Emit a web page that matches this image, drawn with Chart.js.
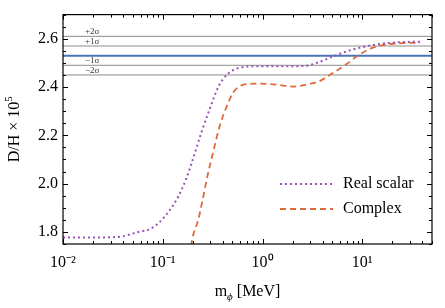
<!DOCTYPE html>
<html>
<head>
<meta charset="utf-8">
<script src="https://cdn.jsdelivr.net/npm/chart.js@4.4.1/dist/chart.umd.min.js"></script>
<style>
html, body { margin: 0; padding: 0; background: #fff; }
</style>
</head>
<body>
<canvas id="myChart" width="445" height="308"></canvas>
<script>
// dados
var massReal = [0.01, 0.02, 0.03, 0.04, 0.057, 0.075, 0.094, 0.118, 0.143, 0.172, 0.2, 0.245, 0.297, 0.36, 0.45, 0.59, 0.87, 1.5, 2.6, 3.5, 5.1, 7.5, 11, 16, 25, 40];
var dhReal = [1.777, 1.777, 1.778, 1.782, 1.80, 1.812, 1.843, 1.891, 1.946, 2.021, 2.10, 2.214, 2.311, 2.40, 2.455, 2.48, 2.486, 2.486, 2.487, 2.50, 2.527, 2.552, 2.569, 2.58, 2.586, 2.588];

var massComplex = [0.185, 0.2, 0.227, 0.25, 0.28, 0.32, 0.37, 0.436, 0.51, 0.6, 0.75, 0.94, 1.4, 2.0, 3.0, 3.7, 4.8, 6.9, 9.4, 12.8, 17.4, 25.5, 38];
var dhComplex = [1.70, 1.78, 1.85, 1.93, 2.03, 2.13, 2.235, 2.318, 2.378, 2.405, 2.413, 2.414, 2.41, 2.402, 2.414, 2.424, 2.452, 2.494, 2.535, 2.563, 2.576, 2.582, 2.583];

var legendNames = ['Real scalar', 'Complex'];
var sigmaNames = ['+2σ', '+1σ', '', '−1σ', '−2σ'];
var sigmaValues = [2.61, 2.57, 2.53, 2.49, 2.45];

var xTicks = [0.01, 0.1, 1, 10];
var xTickLabels = ['10⁻²', '10⁻¹', '10⁰', '10¹'];
var yTicks = [1.8, 2.0, 2.2, 2.4, 2.6];

var xMin = 0.01, xMax = 50, yMin = 1.75, yMax = 2.70;

var corReal = '#9b51b8';
var corComplex = '#e0683a';
var corCentral = '#4a74b5';
var corSigma = '#8c8c8c';
var fonte = "'Liberation Serif', 'Times New Roman', serif";

function pares(xs, ys) {
    var arr = [];
    for (var i = 0; i < xs.length; i++) arr.push({ x: xs[i], y: ys[i] });
    return arr;
}

function linha(ctx, x1, y1, x2, y2) {
    ctx.beginPath();
    ctx.moveTo(x1, y1);
    ctx.lineTo(x2, y2);
    ctx.stroke();
}

// moldura com ticks para dentro, legenda, rotulos sigma e titulos
var molduraPlugin = {
    id: 'moldura',
    afterDatasetsDraw: function(chart) {
        var ctx = chart.ctx, a = chart.chartArea;
        var sx = chart.scales.x, sy = chart.scales.y;
        ctx.save();

        // rotulos sigma
        ctx.fillStyle = '#333';
        ctx.font = '9px ' + fonte;
        ctx.textAlign = 'left';
        ctx.textBaseline = 'alphabetic';
        for (var s = 0; s < sigmaValues.length; s++) {
            if (!sigmaNames[s]) continue;
            ctx.fillText(sigmaNames[s], a.left + 22, sy.getPixelForValue(sigmaValues[s]) - 2);
        }

        // moldura
        ctx.strokeStyle = '#000';
        ctx.lineWidth = 1.2;
        ctx.strokeRect(a.left, a.top, a.right - a.left, a.bottom - a.top);

        ctx.lineWidth = 1;
        for (var e = -2; e <= 1; e++) {
            for (var m = 1; m <= 9; m++) {
                var v = m * Math.pow(10, e);
                if (v < xMin || v > xMax) continue;
                var px = Math.round(sx.getPixelForValue(v)) + 0.5;
                var len = m == 1 ? 5 : 3;
                linha(ctx, px, a.bottom, px, a.bottom - len);
                linha(ctx, px, a.top, px, a.top + len);
            }
        }
        for (var k = 0; k <= 19; k++) {
            var yv = yMin + 0.05 * k;
            var major = false;
            for (var t = 0; t < yTicks.length; t++) if (Math.abs(yTicks[t] - yv) < 0.001) major = true;
            var py = Math.round(sy.getPixelForValue(yv)) + 0.5;
            var l2 = major ? 5 : 3;
            linha(ctx, a.left, py, a.left + l2, py);
            linha(ctx, a.right, py, a.right - l2, py);
        }

        // legenda
        var cores = [corReal, corComplex];
        var tracos = [[2, 3], [6, 4]];
        ctx.font = '16px ' + fonte;
        ctx.textBaseline = 'middle';
        for (var i = 0; i < legendNames.length; i++) {
            var ly = a.bottom - 60 + i * 25;
            ctx.strokeStyle = cores[i];
            ctx.lineWidth = 1.8;
            ctx.setLineDash(tracos[i]);
            linha(ctx, a.left + 217, ly, a.left + 270, ly);
            ctx.setLineDash([]);
            ctx.fillStyle = '#000';
            ctx.fillText(legendNames[i], a.left + 280, ly);
        }

        // titulo eixo x
        var cx = (a.left + a.right) / 2;
        ctx.textBaseline = 'alphabetic';
        ctx.font = '16px ' + fonte;
        var w1 = ctx.measureText('m').width;
        var w3 = ctx.measureText(' [MeV]').width;
        ctx.font = 'italic 11px ' + fonte;
        var w2 = ctx.measureText('ϕ').width;
        var x0 = cx - (w1 + w2 + w3) / 2;
        ctx.font = '16px ' + fonte;
        ctx.fillText('m', x0, 296);
        ctx.font = 'italic 11px ' + fonte;
        ctx.fillText('ϕ', x0 + w1, 300);
        ctx.font = '16px ' + fonte;
        ctx.fillText(' [MeV]', x0 + w1 + w2, 296);

        // titulo eixo y
        ctx.translate(19, (a.top + a.bottom) / 2);
        ctx.rotate(-Math.PI / 2);
        ctx.font = '16px ' + fonte;
        var t1 = ctx.measureText('D/H × 10').width;
        ctx.font = '11px ' + fonte;
        var t2 = ctx.measureText('5').width;
        ctx.font = '16px ' + fonte;
        ctx.fillText('D/H × 10', -(t1 + t2) / 2, 0);
        ctx.font = '11px ' + fonte;
        ctx.fillText('5', -(t1 + t2) / 2 + t1, -7);

        ctx.restore();
    }
};

var datasets = [{
    label: legendNames[0],
    data: pares(massReal, dhReal),
    borderColor: corReal,
    borderWidth: 2,
    borderDash: [2, 3],
    pointRadius: 0,
    cubicInterpolationMode: 'monotone',
    fill: false
}, {
    label: legendNames[1],
    data: pares(massComplex, dhComplex),
    borderColor: corComplex,
    borderWidth: 1.8,
    borderDash: [6, 4],
    pointRadius: 0,
    cubicInterpolationMode: 'monotone',
    fill: false
}];

for (var s = 0; s < sigmaValues.length; s++) {
    var central = sigmaNames[s] === '';
    datasets.push({
        label: 'sigma' + s,
        data: [{ x: xMin, y: sigmaValues[s] }, { x: xMax, y: sigmaValues[s] }],
        borderColor: central ? corCentral : corSigma,
        borderWidth: central ? 2 : 1,
        pointRadius: 0,
        fill: false
    });
}

var ctx = document.getElementById('myChart').getContext('2d');
var myChart = new Chart(ctx, {
    type: 'line',
    data: { datasets: datasets },
    options: {
        responsive: false,
        animation: false,
        devicePixelRatio: 1,
        layout: { padding: { left: 0, right: 13, top: 12, bottom: 0 } },
        plugins: { legend: { display: false }, tooltip: { enabled: false } },
        scales: {
            x: {
                type: 'logarithmic',
                min: xMin,
                max: xMax,
                grid: { display: false, drawTicks: false },
                border: { display: false },
                afterFit: function(scale) { scale.height = 64; },
                afterBuildTicks: function(scale) {
                    scale.ticks = xTicks.map(function(v) { return { value: v }; });
                },
                ticks: {
                    padding: 9,
                    maxRotation: 0,
                    autoSkip: false,
                    color: '#000',
                    font: { family: fonte, size: 16 },
                    callback: function(value) {
                        var i = xTicks.indexOf(value);
                        return i >= 0 ? xTickLabels[i] : '';
                    }
                }
            },
            y: {
                min: yMin,
                max: yMax,
                grid: { display: false, drawTicks: false },
                border: { display: false },
                afterFit: function(scale) { scale.width = 63; },
                afterBuildTicks: function(scale) {
                    scale.ticks = yTicks.map(function(v) { return { value: v }; });
                },
                ticks: {
                    padding: 5,
                    color: '#000',
                    font: { family: fonte, size: 16 },
                    callback: function(value) { return value.toFixed(1); }
                }
            }
        }
    },
    plugins: [molduraPlugin]
});
</script>
</body>
</html>
